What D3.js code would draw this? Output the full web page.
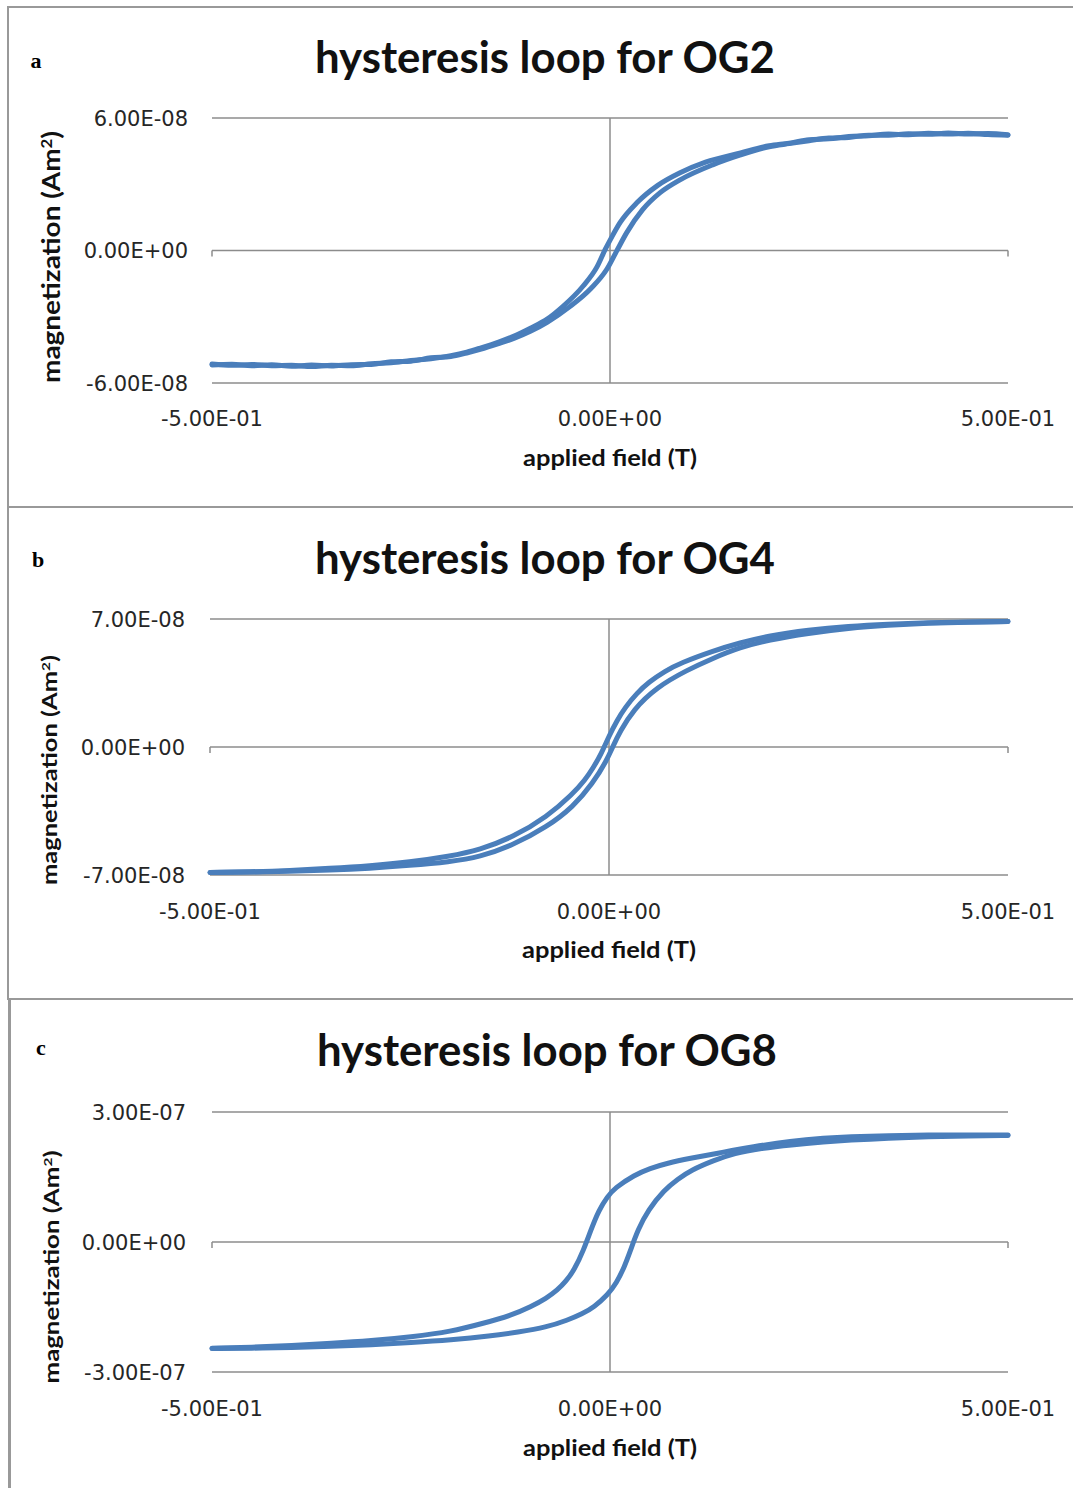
<!DOCTYPE html>
<html>
<head>
<meta charset="utf-8">
<script src="https://cdn.jsdelivr.net/npm/d3@7"></script>
<style>
  body { margin: 0; background: #fff; }
  svg { display: block; }
</style>
</head>
<body>
<svg id="viz" width="1073" height="1488"></svg>
<script>
const svg = d3.select("#viz");

// ---- data (field in T, moment in units of 1e-8 / 1e-7 Am2) ----
const fieldTicks = [-0.5, 0, 0.5];
const fieldTickLabels = ["-5.00E-01", "0.00E+00", "5.00E-01"];

// OG2 (x 1e-8 Am2) - noisy measurement
const og2Ticks = [6e-8, 0, -6e-8];
const og2TickLabels = ["6.00E-08", "0.00E+00", "-6.00E-08"];
const og2Down = [
  [-0.5, -5.14], [-0.475, -5.2], [-0.45, -5.16], [-0.425, -5.22], [-0.4, -5.2], [-0.375, -5.25],
  [-0.35, -5.2], [-0.325, -5.22], [-0.3, -5.13], [-0.275, -5.08], [-0.25, -4.98], [-0.225, -4.9],
  [-0.2, -4.76], [-0.18, -4.6], [-0.163, -4.42], [-0.14, -4.15], [-0.122, -3.9], [-0.1, -3.52],
  [-0.079, -3.11], [-0.059, -2.53], [-0.034, -1.62], [-0.016, -0.72], [-0.006, 0.05], [0.0025, 0.63],
  [0.0126, 1.26], [0.034, 2.17], [0.06, 2.95], [0.088, 3.52], [0.12, 4.0], [0.164, 4.42],
  [0.2, 4.74], [0.225, 4.86], [0.25, 5.02], [0.275, 5.06], [0.3, 5.16], [0.325, 5.2],
  [0.35, 5.27], [0.375, 5.24], [0.4, 5.31], [0.425, 5.27], [0.45, 5.31], [0.475, 5.25], [0.5, 5.22]
];
const og2Up = [
  [-0.5, -5.18], [-0.475, -5.15], [-0.45, -5.22], [-0.425, -5.17], [-0.4, -5.24], [-0.375, -5.19],
  [-0.35, -5.23], [-0.325, -5.17], [-0.3, -5.16], [-0.275, -5.04], [-0.25, -5.01], [-0.225, -4.86],
  [-0.2, -4.8], [-0.18, -4.64], [-0.163, -4.48], [-0.14, -4.22], [-0.12, -3.97], [-0.1, -3.66],
  [-0.079, -3.25], [-0.05, -2.53], [-0.024, -1.72], [-0.004, -0.85], [0.008, -0.05], [0.021, 0.81],
  [0.041, 1.85], [0.063, 2.62], [0.088, 3.2], [0.129, 3.88], [0.164, 4.33], [0.2, 4.7],
  [0.225, 4.84], [0.25, 4.97], [0.275, 5.09], [0.3, 5.12], [0.325, 5.22], [0.35, 5.22],
  [0.375, 5.29], [0.4, 5.26], [0.425, 5.32], [0.45, 5.27], [0.475, 5.3], [0.5, 5.24]
];

// OG4 (x 1e-8 Am2)
const og4Ticks = [7e-8, 0, -7e-8];
const og4TickLabels = ["7.00E-08", "0.00E+00", "-7.00E-08"];
const og4Down = [
  [-0.5, -6.86], [-0.45, -6.83], [-0.4, -6.76], [-0.35, -6.64], [-0.3, -6.5], [-0.25, -6.3],
  [-0.2, -5.98], [-0.162, -5.63], [-0.12, -4.92], [-0.078, -3.83], [-0.045, -2.55], [-0.03, -1.8],
  [-0.02, -1.15], [-0.01, -0.4], [0.0, 0.6], [0.01, 1.45], [0.02, 2.15], [0.035, 2.95],
  [0.05, 3.55], [0.07, 4.15], [0.09, 4.6], [0.13, 5.25], [0.164, 5.7], [0.2, 6.08],
  [0.25, 6.4], [0.3, 6.6], [0.35, 6.72], [0.4, 6.8], [0.45, 6.84], [0.5, 6.86]
];
const og4Up = [
  [-0.5, -6.86], [-0.45, -6.84], [-0.4, -6.8], [-0.35, -6.74], [-0.3, -6.64], [-0.25, -6.48],
  [-0.2, -6.28], [-0.162, -6.02], [-0.12, -5.36], [-0.078, -4.38], [-0.045, -3.28], [-0.02, -1.97],
  [-0.003, -0.75], [0.005, 0.05], [0.014, 0.85], [0.03, 2.02], [0.06, 3.28], [0.098, 4.21],
  [0.13, 4.85], [0.164, 5.45], [0.2, 5.85], [0.25, 6.22], [0.3, 6.5], [0.35, 6.66],
  [0.4, 6.77], [0.45, 6.83], [0.5, 6.86]
];

// OG8 (x 1e-7 Am2)
const og8Ticks = [3e-7, 0, -3e-7];
const og8TickLabels = ["3.00E-07", "0.00E+00", "-3.00E-07"];
const og8Down = [
  [-0.5, -2.45], [-0.45, -2.43], [-0.4, -2.39], [-0.35, -2.34], [-0.3, -2.28], [-0.25, -2.19],
  [-0.2, -2.07], [-0.158, -1.87], [-0.125, -1.7], [-0.099, -1.49], [-0.08, -1.3], [-0.066, -1.11],
  [-0.055, -0.9], [-0.045, -0.65], [-0.033, -0.18], [-0.024, 0.28], [-0.014, 0.74], [-0.003, 1.05],
  [0.0055, 1.24], [0.031, 1.55], [0.05, 1.7], [0.072, 1.82], [0.1, 1.93], [0.136, 2.05],
  [0.18, 2.2], [0.227, 2.33], [0.27, 2.4], [0.3, 2.43], [0.35, 2.45], [0.4, 2.47],
  [0.45, 2.47], [0.5, 2.47]
];
const og8Up = [
  [-0.5, -2.46], [-0.45, -2.45], [-0.4, -2.44], [-0.35, -2.41], [-0.3, -2.37], [-0.25, -2.32],
  [-0.2, -2.26], [-0.15, -2.17], [-0.116, -2.08], [-0.08, -1.97], [-0.053, -1.8], [-0.035, -1.66],
  [-0.02, -1.5], [-0.003, -1.22], [0.008, -0.95], [0.018, -0.58], [0.026, -0.18], [0.035, 0.28],
  [0.048, 0.74], [0.068, 1.2], [0.085, 1.45], [0.102, 1.66], [0.13, 1.88], [0.156, 2.05],
  [0.19, 2.16], [0.227, 2.24], [0.27, 2.31], [0.3, 2.35], [0.35, 2.4], [0.4, 2.43],
  [0.45, 2.45], [0.5, 2.46]
];

// ---- layout of the three panels ----
const panels = [
  {
    letter: "a", title: "hysteresis loop for OG2", unit: 1e-8, curve: d3.curveMonotoneX,
    ticks: og2Ticks, tickLabels: og2TickLabels, branches: [og2Down, og2Up],
    frameTop: 7, letterPos: [36, 68], titlePos: [545, 73],
    x0: 212, x1: 1008, yTop: 118, yBot: 383, yLabelX: 188,
    xLabelY: 426, xTitleY: 466, yTitleX: 60, yTitleY: 257, yTitleLen: 252, yTitleSize: 24
  },
  {
    letter: "b", title: "hysteresis loop for OG4", unit: 1e-8, curve: d3.curveBasis,
    ticks: og4Ticks, tickLabels: og4TickLabels, branches: [og4Down, og4Up],
    frameTop: 507, letterPos: [38, 567], titlePos: [545, 574],
    x0: 210, x1: 1008, yTop: 619, yBot: 875, yLabelX: 185,
    xLabelY: 919, xTitleY: 958, yTitleX: 57, yTitleY: 770, yTitleLen: 230, yTitleSize: 20
  },
  {
    letter: "c", title: "hysteresis loop for OG8", unit: 1e-7, curve: d3.curveBasis,
    ticks: og8Ticks, tickLabels: og8TickLabels, branches: [og8Down, og8Up],
    frameTop: 999, letterPos: [41, 1055], titlePos: [547, 1066],
    x0: 212, x1: 1008, yTop: 1112, yBot: 1372, yLabelX: 186,
    xLabelY: 1416, xTitleY: 1456, yTitleX: 59, yTitleY: 1267, yTitleLen: 233, yTitleSize: 20
  }
];

const lineColor = "#4a7ebb";
const gridColor = "#8c8c8c";
const tickFont = "'DejaVu Sans', Verdana, sans-serif";
const titleFont = "Lato, 'Open Sans', sans-serif";

// outer frame
svg.append("line").attr("x1", 8).attr("x2", 8).attr("y1", 7).attr("y2", 999)
  .attr("stroke", "#999").attr("stroke-width", 2);
svg.append("line").attr("x1", 9.5).attr("x2", 9.5).attr("y1", 999).attr("y2", 1488)
  .attr("stroke", "#999").attr("stroke-width", 3);

panels.forEach(p => {
  const g = svg.append("g");

  // panel separator line
  g.append("line").attr("x1", 7).attr("x2", 1073)
    .attr("y1", p.frameTop).attr("y2", p.frameTop)
    .attr("stroke", "#999").attr("stroke-width", 2);

  const x = d3.scaleLinear().domain([-0.5, 0.5]).range([p.x0, p.x1]);
  const y = d3.scaleLinear().domain([p.ticks[2], p.ticks[0]]).range([p.yBot, p.yTop]);

  // horizontal gridlines
  g.selectAll(".grid").data(p.ticks).enter().append("line")
    .attr("x1", p.x0).attr("x2", p.x1)
    .attr("y1", d => y(d)).attr("y2", d => y(d))
    .attr("stroke", gridColor).attr("stroke-width", 1.5);

  // y axis through field = 0
  g.append("line").attr("x1", x(0)).attr("x2", x(0))
    .attr("y1", p.yTop).attr("y2", p.yBot)
    .attr("stroke", gridColor).attr("stroke-width", 1.5);

  // small tick marks at the ends of the zero line
  g.selectAll(".xtick").data([-0.5, 0.5]).enter().append("line")
    .attr("x1", d => x(d)).attr("x2", d => x(d))
    .attr("y1", y(0)).attr("y2", y(0) + 6)
    .attr("stroke", gridColor).attr("stroke-width", 1.5);

  // y tick labels
  g.selectAll(".ylab").data(p.ticks).enter().append("text")
    .attr("x", p.yLabelX).attr("y", d => y(d))
    .attr("dy", "0.36em").attr("text-anchor", "end")
    .style("font-family", tickFont).style("font-size", "21px").attr("fill", "#262626")
    .text((d, i) => p.tickLabels[i]);

  // x tick labels
  g.selectAll(".xlab").data(fieldTicks).enter().append("text")
    .attr("x", d => x(d)).attr("y", p.xLabelY).attr("text-anchor", "middle")
    .style("font-family", tickFont).style("font-size", "21px").attr("fill", "#262626")
    .text((d, i) => fieldTickLabels[i]);

  // loop branches
  const line = d3.line()
    .x(d => x(d[0]))
    .y(d => y(d[1] * p.unit))
    .curve(p.curve);

  g.selectAll(".branch").data(p.branches).enter().append("path")
    .attr("d", line)
    .attr("fill", "none").attr("stroke", lineColor)
    .attr("stroke-width", 5).attr("stroke-linejoin", "round").attr("stroke-linecap", "round");

  // panel letter
  g.append("text").attr("x", p.letterPos[0]).attr("y", p.letterPos[1])
    .attr("text-anchor", "middle")
    .style("font-family", "'Liberation Serif', 'DejaVu Serif', serif")
    .style("font-weight", "bold").style("font-size", "22px")
    .text(p.letter);

  // title
  g.append("text").attr("x", p.titlePos[0]).attr("y", p.titlePos[1])
    .attr("text-anchor", "middle")
    .attr("textLength", 460).attr("lengthAdjust", "spacingAndGlyphs")
    .style("font-family", titleFont).style("font-weight", "bold").style("font-size", "44px")
    .attr("fill", "#111")
    .text(p.title);

  // x axis title
  g.append("text").attr("x", x(0)).attr("y", p.xTitleY)
    .attr("text-anchor", "middle")
    .attr("textLength", 174).attr("lengthAdjust", "spacingAndGlyphs")
    .style("font-family", titleFont).style("font-weight", "bold").style("font-size", "23px")
    .attr("fill", "#111")
    .text("applied field (T)");

  // y axis title
  const yt = g.append("text")
    .attr("transform", `translate(${p.yTitleX},${p.yTitleY}) rotate(-90)`)
    .attr("text-anchor", "middle")
    .attr("textLength", p.yTitleLen).attr("lengthAdjust", "spacingAndGlyphs")
    .style("font-family", titleFont).style("font-weight", "bold")
    .style("font-size", p.yTitleSize + "px").attr("fill", "#111");
  yt.append("tspan").text("magnetization (Am");
  yt.append("tspan").attr("baseline-shift", "super").style("font-size", "0.6em").text("2");
  yt.append("tspan").text(")");
});
</script>
</body>
</html>
